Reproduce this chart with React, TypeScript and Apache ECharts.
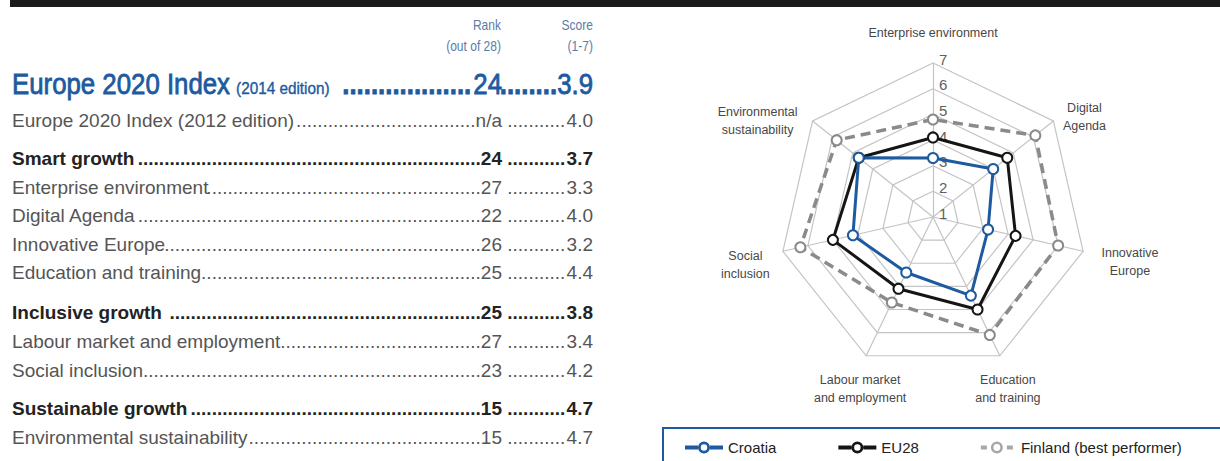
import React, { useEffect, useRef } from "react";
import * as echarts from "echarts";

// ---------- data ----------
const headerRank = ["Rank", "(out of 28)"];
const headerScore = ["Score", "(1-7)"];
const headlineLabel = "Europe 2020 Index";
const headlineEdition = "(2014 edition)";
const headlineRank = "24";
const headlineScore = 3.9;

const rowLabels = [
  "Europe 2020 Index (2012 edition)",
  "Smart growth",
  "Enterprise environment",
  "Digital Agenda",
  "Innovative Europe",
  "Education and training",
  "Inclusive growth",
  "Labour market and employment",
  "Social inclusion",
  "Sustainable growth",
  "Environmental sustainability",
];
const rowRanks = ["n/a", "24", "27", "22", "26", "25", "25", "27", "23", "15", "15"];
const rowScores = [4.0, 3.7, 3.3, 4.0, 3.2, 4.4, 3.8, 3.4, 4.2, 4.7, 4.7];
const rowBold = [false, true, false, false, false, false, true, false, false, true, false];

// radar (clockwise from top)
const indicatorNames = [
  "Enterprise environment",
  "Digital\nAgenda",
  "Innovative\nEurope",
  "Education\nand training",
  "Labour market\nand employment",
  "Social\ninclusion",
  "Environmental\nsustainability",
];
const croatia = [3.3, 4.0, 3.2, 4.4, 3.4, 4.2, 4.7];
const eu28 = [4.1, 4.7, 4.3, 5.0, 4.1, 5.0, 4.7];
const finland = [4.8, 6.1, 6.0, 6.1, 4.7, 6.3, 5.8];
const scaleMin = 1;
const scaleMax = 7;
const seriesNames = ["Croatia", "EU28", "Finland (best performer)"];

// ---------- layout / style ----------
const W = 1220;
const H = 461;
const SANS = '"Liberation Sans", Arial, sans-serif';
const BLUE = "#1d5a9f";
const BLACK = "#151515";
const GREY = "#8a8a8a";
const rowY = [120, 158, 187, 215, 244, 272, 312, 341, 370, 408, 437];
const LEFT_X = 12;
const RANK_RIGHT = 502;
const SCORE_RIGHT = 593;

// name label tuning per indicator (gap along the axis, padding shift)
const nameGaps = [30, 6.5, 48, 37, 37, 61, 0];
const namePads = [
  [0, 0, 0, 0],
  [0, 0, 0, 52],
  [0, 0, 0, 0],
  [0, 16, 0, 0],
  [0, 0, 0, 20],
  [0, 0, 0, 44],
  [0, 110, 0, 0],
];

let ctx: CanvasRenderingContext2D | null = null;
function tw(text: string, font: string): number {
  if (!ctx) ctx = document.createElement("canvas").getContext("2d");
  if (!ctx) return text.length * 8;
  ctx.font = font;
  return ctx.measureText(text).width;
}
function fontOf(o: any) {
  return `${o.weight || "normal"} ${o.size}px ${SANS}`;
}
function widthOf(text: string, o: any) {
  return tw(text, fontOf(o)) * (o.sx || 1);
}
function dots(width: number, o: any): string {
  const d = widthOf(".", o);
  return ".".repeat(Math.max(0, Math.round(width / d)));
}

function textEl(text: string, x: number, y: number, o: any) {
  const style: any = {
    text,
    fill: o.fill,
    fontFamily: SANS,
    fontSize: o.size,
    fontWeight: o.weight || "normal",
    align: o.align || "left",
    verticalAlign: "middle",
  };
  if (o.stroke) {
    style.stroke = o.fill;
    style.lineWidth = o.stroke;
  }
  return { type: "text", x, y, scaleX: o.sx || 1, silent: true, style };
}

function buildTable(): any[] {
  const els: any[] = [];
  // top rule
  els.push({ type: "rect", shape: { x: 10, y: 0, width: W - 10, height: 7 }, style: { fill: "#1b1b1b" }, silent: true });

  const hdr = { fill: "#5b7ca6", size: 14, sx: 0.86, align: "right" };
  els.push(textEl(headerRank[0], RANK_RIGHT - 1, 25, hdr));
  els.push(textEl(headerRank[1], RANK_RIGHT - 1, 46, hdr));
  els.push(textEl(headerScore[0], SCORE_RIGHT, 25, hdr));
  els.push(textEl(headerScore[1], SCORE_RIGHT, 46, hdr));

  // headline
  const hy = 84;
  const big = { fill: BLUE, size: 29, sx: 0.89, stroke: 0.8 };
  const bigDot = { ...big, weight: "bold" };
  const ed = { fill: BLUE, size: 17, sx: 0.9, stroke: 0.4 };
  const w1 = widthOf(headlineLabel, big);
  els.push(textEl(headlineLabel, LEFT_X, hy, big));
  const edX = LEFT_X + w1 + 6;
  els.push(textEl(headlineEdition, edX, hy + 4, ed));
  const edEnd = edX + widthOf(headlineEdition, ed) + 12;
  const rankStart = RANK_RIGHT - widthOf(headlineRank, big);
  els.push(textEl(dots(rankStart - edEnd - 2, bigDot), rankStart - 2, hy, { ...bigDot, align: "right" }));
  els.push(textEl(headlineRank, RANK_RIGHT, hy, { ...big, align: "right" }));
  const sc = headlineScore.toFixed(1);
  const scStart = SCORE_RIGHT - widthOf(sc, big);
  els.push(textEl(dots(scStart - RANK_RIGHT - 1, bigDot), scStart, hy, { ...bigDot, align: "right" }));
  els.push(textEl(sc, SCORE_RIGHT, hy, { ...big, align: "right" }));

  rowLabels.forEach((label, i) => {
    const bold = rowBold[i];
    const o = {
      fill: bold ? "#232323" : "#555555",
      size: 19,
      weight: bold ? "bold" : "normal",
      sx: 1,
    };
    const y = rowY[i];
    const lw = widthOf(label, o);
    els.push(textEl(label, LEFT_X, y, o));
    const rank = rowRanks[i];
    const rs = RANK_RIGHT - widthOf(rank, o);
    const dStart = LEFT_X + lw + (bold ? widthOf(" ", o) : 0);
    els.push(textEl(dots(rs - dStart, o), rs, y, { ...o, align: "right" }));
    els.push(textEl(rank, RANK_RIGHT, y, { ...o, align: "right" }));
    const score = rowScores[i].toFixed(1);
    const ss = SCORE_RIGHT - widthOf(score, o);
    const d2Start = RANK_RIGHT + widthOf(" ", o);
    els.push(textEl(dots(ss - d2Start, o), d2Start, y, o));
    els.push(textEl(score, SCORE_RIGHT, y, { ...o, align: "right" }));
  });

  // legend frame
  els.push({
    type: "rect",
    shape: { x: 663, y: 428, width: 620, height: 60 },
    style: { fill: "none", stroke: BLUE, lineWidth: 2 },
    silent: true,
  });
  return els;
}

// display order for ECharts radar (counter-clockwise from the top)
const order = [0, 6, 5, 4, 3, 2, 1];
const reorder = (arr: number[]) => order.map((k) => arr[k]);

const ICON_SOLID =
  "path://M0 4H13V8H0Z M25 4H38V8H25Z M19 0A6 6 0 1 1 19 12A6 6 0 1 1 19 0Z M19 2.8A3.2 3.2 0 1 0 19 9.2A3.2 3.2 0 1 0 19 2.8Z";
const ICON_DASH =
  "path://M3 4H9V8H3Z M29 4H35V8H29Z M19 0A6 6 0 1 1 19 12A6 6 0 1 1 19 0Z M19 2.6A3.4 3.4 0 1 0 19 9.4A3.4 3.4 0 1 0 19 2.6Z";

export default function App() {
  const ref = useRef<HTMLDivElement>(null);
  useEffect(() => {
    if (!ref.current) return;
    const chart = echarts.init(ref.current, null, { renderer: "svg" });
    const indicator = order.map((k, j) => {
      const ind: any = {
        name: indicatorNames[k],
        min: scaleMin,
        max: scaleMax,
        nameGap: nameGaps[k],
        nameTextStyle: { padding: namePads[k] },
      };
      if (j === 0) {
        ind.axisLabel = {
          show: true,
          color: "#5f5f5f",
          fontSize: 15,
          fontFamily: SANS,
          margin: -6,
          align: "left",
          verticalAlign: "bottom",
          lineHeight: 8,
        };
      }
      return ind;
    });
    const option: any = {
      animation: false,
      backgroundColor: "#ffffff",
      graphic: { elements: buildTable() },
      legend: {
        left: 680,
        top: 435,
        itemWidth: 38,
        itemHeight: 12,
        itemGap: 62,
        selectedMode: false,
        textStyle: { fontFamily: SANS, fontSize: 15, color: "#222" },
        itemStyle: { borderWidth: 0 },
        data: [
          { name: seriesNames[0], icon: ICON_SOLID, itemStyle: { color: BLUE, borderWidth: 0 } },
          { name: seriesNames[1], icon: ICON_SOLID, itemStyle: { color: BLACK, borderWidth: 0 } },
          { name: seriesNames[2], icon: ICON_DASH, itemStyle: { color: "#a8a8a8", borderWidth: 0 } },
        ],
      },
      radar: {
        center: [933, 217],
        radius: 154,
        startAngle: 90,
        splitNumber: scaleMax - scaleMin,
        shape: "polygon",
        indicator,
        axisName: {
          color: "#474747",
          fontFamily: SANS,
          fontSize: 12.5,
          lineHeight: 17.5,
          align: "center",
          verticalAlign: "middle",
        },
        splitLine: { lineStyle: { color: "#c4c4c4", width: 1.2 } },
        splitArea: { show: false },
        axisLine: { lineStyle: { color: "#c4c4c4", width: 1.2 } },
        axisTick: { show: false },
        axisLabel: { show: false },
      },
      series: [
        {
          type: "radar",
          symbol: "emptyCircle",
          symbolSize: 10,
          data: [
            {
              name: seriesNames[2],
              value: reorder(finland),
              lineStyle: { color: GREY, width: 3.5, type: [10, 6] },
              itemStyle: { color: GREY, borderWidth: 2.2 },
            },
            {
              name: seriesNames[1],
              value: reorder(eu28),
              lineStyle: { color: BLACK, width: 3 },
              itemStyle: { color: BLACK, borderWidth: 2.2 },
            },
            {
              name: seriesNames[0],
              value: reorder(croatia),
              lineStyle: { color: BLUE, width: 3 },
              itemStyle: { color: BLUE, borderWidth: 2.2 },
            },
          ],
        },
      ],
    };
    chart.setOption(option);
    return () => chart.dispose();
  }, []);
  return (
    <div
      ref={ref}
      style={{ position: "fixed", left: 0, top: 0, width: W, height: H, background: "#fff" }}
    />
  );
}
